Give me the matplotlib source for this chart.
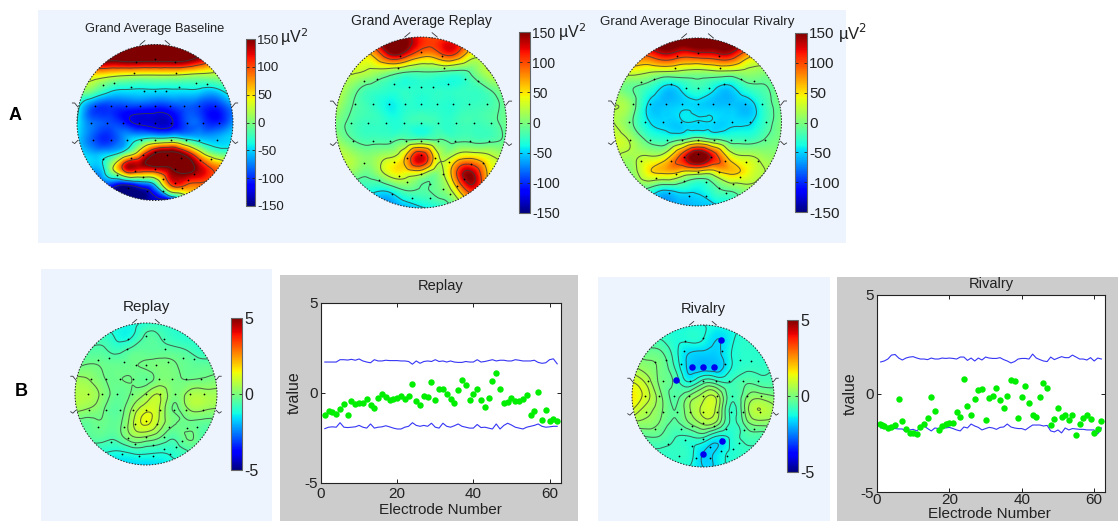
import numpy as np
import matplotlib
matplotlib.use("Agg")
import matplotlib.pyplot as plt
from matplotlib.patches import Rectangle, Circle
from matplotlib.tri import Triangulation, CubicTriInterpolator

plt.rcParams['font.family'] = ['Liberation Sans', 'DejaVu Sans']
plt.rcParams['axes.unicode_minus'] = False
W, H = 1118, 521

# Scalp maps: values read on a coarse 11x11 grid, top row = front of head
baseline = [
 [170,170,170,170,170,170,170,170,170,170,170],
 [160,160,160,165,165,165,165,160,130,90,70],
 [60,50,40,30,25,25,25,20,15,15,20],
 [0,-5,-35,-45,-45,-45,-45,-45,-50,-50,-15],
 [-30,-85,-95,-95,-95,-100,-95,-85,-95,-100,-70],
 [-40,-80,-90,-105,-125,-130,-125,-90,-90,-105,-70],
 [-45,-85,-100,-70,-50,-40,-35,-50,-60,-60,-50],
 [-40,-60,-55,-15,60,155,170,130,40,-10,-30],
 [-60,-60,-10,110,125,130,150,170,130,90,60],
 [-120,-110,-90,-120,-90,-40,100,100,90,70,60],
 [-150,-150,-150,-150,-150,-130,-120,0,50,60,60],
]
replay_avg = [
 [140,140,140,150,150,110,100,100,100,100,100],
 [60,60,60,125,125,80,90,100,40,40,40],
 [30,30,20,10,-5,-10,-10,-15,-5,25,25],
 [30,0,-20,-28,-30,-30,-30,-30,-25,-10,10],
 [20,-12,-25,-40,-32,-32,-30,-30,-25,-20,-5],
 [0,-18,-25,-30,-28,-25,-25,-25,-22,-18,-5],
 [10,-12,-20,-20,-12,-10,-12,-18,-18,-18,-5],
 [30,15,5,20,55,130,30,35,50,30,10],
 [5,5,-5,30,40,30,5,90,140,50,40],
 [-35,-35,-35,-40,-15,-15,-5,40,110,50,40],
 [-70,-70,-75,-70,-60,-45,-35,-10,20,20,20],
]
rivalry_avg = [
 [170,170,170,170,170,170,170,170,170,170,170],
 [100,100,100,125,110,115,120,120,70,60,60],
 [35,35,25,20,15,10,15,15,12,5,5],
 [10,-10,-25,-50,-42,-25,-42,-50,-25,-15,5],
 [20,5,-45,-55,-50,-50,-55,-55,-55,-25,-5],
 [20,-5,-42,-50,-48,-46,-48,-48,-48,-25,0],
 [30,15,-18,-30,-20,0,-15,-25,-25,-12,0],
 [20,15,20,30,100,165,110,35,20,10,5],
 [5,5,45,60,50,40,40,60,40,20,15],
 [-15,-15,-15,-40,-35,-40,-20,-5,10,10,10],
 [-60,-60,-60,-60,-60,-55,-50,-30,-10,0,0],
]
replay_t = [
 [-1,-1,-1.2,-1.2,-1.2,-1,-.9,-1,-1,-1,-1],
 [-.8,-.8,-.8,-1.2,-1.1,-.5,-.6,-.9,-1,-1,-1],
 [-.5,-.5,-.5,-.7,-.4,-.35,-.35,-.4,-.6,-.9,-.9],
 [-.3,-.1,-.2,-.25,-.2,-.1,0,-.1,-.3,-.35,-.4],
 [.5,.3,-.1,-.2,-.15,-.3,.05,-.05,-.15,-.1,0],
 [.6,.6,.1,-.3,-.1,.35,.7,0,.45,.55,.45],
 [.5,.3,-.1,-.4,.3,1.0,.7,-.2,.35,.45,.3],
 [-.3,-.3,-.2,-.3,.6,1.3,.6,-.1,-.2,-.3,-.3],
 [-.4,-.4,-.4,-.4,.25,.3,-.1,-.5,-.1,-.5,-.5],
 [-1,-1,-1,-1.1,-.9,-.9,-1,-.9,-.6,-.6,-.6],
 [-1.6,-1.6,-1.6,-1.6,-1.6,-1.6,-1.5,-1.3,-1,-1,-1],
]
rivalry_t = [
 [-1.2,-1.2,-1.2,-1.2,-1.2,-1.2,-1.2,-1.2,-1.2,-1.2,-1.2],
 [-.8,-.8,-.8,-1.1,-1.1,-1.2,-1.6,-1.3,-1,-1,-1],
 [-.2,-.2,-.3,-1,-1.6,-1.7,-1.7,-1.2,-1,-1,-1],
 [.5,.2,-.1,-.8,-1.7,-1.8,-1.8,-1.2,-.9,-.9,-.8],
 [1.2,.7,-.1,-.5,-1.2,-.6,-.7,-.8,-.5,-.6,-.6],
 [1.6,1.0,.1,-.5,0,.6,.6,-.7,-.1,.2,0],
 [1.2,.6,.1,-.4,.3,.9,.6,-.9,.1,.8,.5],
 [.2,.2,-.1,-.5,-.1,.4,.1,-.9,-.3,.1,.1],
 [-.5,-.5,-.5,-.8,-.9,-.9,-1.4,-1.1,-.7,-.7,-.7],
 [-.9,-.9,-.9,-.9,-1,-1.6,-1.5,-1.1,-.9,-.9,-.9],
 [-1,-1,-1,-1,-1.2,-1.6,-1.5,-1,-1,-1,-1],
]
grid_axis = [-1,-.8,-.6,-.4,-.2,0,.2,.4,.6,.8,1]

levels_baseline = [-120,-40,30,100,155]
levels_replay_avg = [-42,-12,25,62,100,135]
levels_rivalry_avg = [-45,-12,20,55,95,130]
levels_replay_t = [-1.1,-.6,-.15,.3,.75,1.2]
levels_rivalry_t = [-1.6,-1.2,-.8,-.4,0,.4,.8,1.2]

elec_x = [-.25,0,.25,-.27,.27,-.67,-.52,-.31,-.14,0,.14,.31,.52,.67,
          -.77,-.56,-.37,-.19,0,.19,.37,.56,.77,
          -.82,-.62,-.41,-.2,0,.2,.41,.62,.82,
          -.8,-.56,-.36,-.18,0,.2,.4,.57,.8,
          -.67,-.31,-.16,0,.16,.33,.58,.72,
          -.49,-.26,0,.26,.5,-.16,.1,.26,.42,-.34,-.1,.1,.34]
elec_y = [.78,.82,.78,.64,.64,.48,.51,.45,.41,.41,.41,.45,.51,.49,
          .215,.215,.215,.215,.215,.215,.215,.215,.215,
          0,0,0,0,0,0,0,0,0,
          -.22,-.22,-.22,-.22,-.22,-.22,-.22,-.22,-.22,
          -.47,-.46,-.42,-.38,-.42,-.46,-.48,-.47,
          -.67,-.62,-.6,-.6,-.66,-.7,-.72,-.78,-.74,-.84,-.88,-.88,-.84]

sig_x = [-.155,0,.155,-.385,.254,.272,0]
sig_y = [.413,.413,.413,.225,.784,-.634,-.817]

# t-values per electrode
electrodes = list(range(1, 63))
replay_vals = [-1.2,-1.0,-1.07,-1.15,-.87,-.63,-1.22,-.46,-.63,-.56,-.56,-.31,-.65,-.85,-.28,-.06,
 -.22,-.39,-.35,-.26,-.15,-.33,-.19,.48,-.43,-.67,-.15,-.22,.61,-.37,.2,.24,-.06,-.31,-.54,.15,.74,
 .43,-.37,-.06,.2,-.41,-.78,-.3,.65,1.13,.2,-.57,-.52,-.26,-.44,-.46,-.35,-.13,-1.22,-1.02,.07,-1.5,
 -.94,-1.57,-1.46,-1.54]
replay_upper = [1.72,1.72,1.72,1.72,1.85,1.85,1.83,1.87,1.82,1.89,1.78,1.72,1.68,1.85,1.78,1.78,1.82,
 1.8,1.8,1.8,1.78,1.78,1.75,1.6,1.78,1.65,1.75,1.78,1.75,1.85,1.75,1.78,1.72,1.78,1.72,1.7,1.7,1.75,
 1.72,1.72,1.85,1.72,1.75,1.8,1.85,1.78,1.82,1.82,1.78,1.78,1.85,1.82,1.78,1.78,1.78,1.82,1.7,1.65,
 1.68,1.85,1.9,1.62]
replay_lower = [-1.98,-1.9,-1.88,-1.9,-1.65,-1.9,-1.92,-1.9,-1.88,-1.8,-1.9,-1.95,-1.72,-1.95,-1.9,
 -1.88,-1.82,-1.88,-1.95,-2,-2,-1.9,-1.85,-1.65,-1.8,-1.85,-1.8,-1.85,-1.68,-1.9,-1.95,-1.68,-1.85,
 -1.9,-1.82,-1.72,-1.85,-1.9,-1.95,-1.95,-1.75,-1.92,-1.9,-1.95,-2.0,-1.72,-2.0,-1.8,-1.68,-1.78,
 -1.9,-1.95,-2.0,-1.9,-1.85,-1.8,-1.72,-1.85,-1.9,-1.88,-1.85,-1.85]
rivalry_x = [.7,1.4,2,3,4,5,6,7,8,9,10,11,12,13,14,15,16,17,18,19,20,21,22,23,24,25,26,27,28,29,30,31,
 32,33,34,35,36,37,38,39,40,41,42,43,44,45,46,47,48,49,50,51,52,53,54,55,56,57,58,59,60,61,62]
rivalry_vals = [-1.54,-1.6,-1.65,-1.75,-1.7,-1.59,-.27,-1.39,-1.79,-2.0,-2.0,-2.08,-1.7,-1.55,-1.23,
 -.17,-.91,-1.87,-1.65,-1.55,-1.49,-1.49,-.95,-1.2,.76,-.64,-1.08,-.29,.19,.25,-1.37,-.24,-.15,.27,
 -.34,-.76,-.12,.71,.64,-1.23,-.2,.39,-.46,-1.08,-1.17,-.19,.52,.29,-1.59,-1.28,-.73,-1.2,-1.08,-1.35,
 -1.11,-2.11,-1.55,-1.25,-1.08,-1.28,-1.98,-1.79,-1.39]
rivalry_upper = [1.6,1.65,1.75,1.95,1.98,1.8,1.7,1.8,1.85,1.87,1.8,1.75,1.75,1.72,1.8,1.75,1.75,1.8,
 1.78,1.8,1.78,1.75,1.85,1.85,1.68,1.8,1.65,1.8,1.7,1.85,1.8,1.78,1.78,1.82,1.72,1.65,1.55,1.62,1.75,
 1.78,1.78,1.75,2.0,1.8,1.72,1.65,1.62,1.85,1.72,1.8,1.87,1.82,1.82,1.95,1.85,1.75,1.75,1.7,1.82,1.65,
 1.8,1.75]
rivalry_lower = [-1.75,-1.72,-1.78,-1.78,-1.78,-1.8,-1.8,-1.95,-1.85,-1.82,-1.9,-1.72,-1.65,-1.78,-1.9,
 -1.75,-1.78,-1.7,-1.75,-1.72,-1.78,-1.85,-1.9,-1.7,-1.75,-1.55,-1.65,-1.72,-1.85,-1.78,-1.72,-1.75,
 -1.82,-1.72,-1.7,-1.55,-1.7,-1.75,-1.78,-1.78,-1.85,-1.72,-1.6,-1.6,-1.6,-1.65,-1.62,-1.9,-1.95,-1.85,
 -2.0,-1.75,-1.85,-1.78,-1.8,-1.82,-1.82,-1.85,-1.85,-1.85,-2.05,-1.75]

LIGHT = '#EDF4FE'
GRAY = '#CCCCCC'
fig = plt.figure(figsize=(W/100, H/100), dpi=100, facecolor='white')


def box(x0, y0, x1, y1):
    return [x0/W, 1-y1/H, (x1-x0)/W, (y1-y0)/H]


def panel(x0, y0, x1, y1, color):
    fig.add_artist(Rectangle((x0/W, 1-y1/H), (x1-x0)/W, (y1-y0)/H, transform=fig.transFigure,
                             facecolor=color, edgecolor='none', zorder=-5))


def ftext(x, y, s, **kw):
    kw.setdefault('ha', 'center')
    kw.setdefault('va', 'center')
    kw.setdefault('color', '#222222')
    fig.text(x/W, 1-y/H, s, **kw)


def topo(cx, cy, r, field, levels, vmax, bar, ticks, tick_fs):
    m = 1.14
    ax = fig.add_axes(box(cx-m*r, cy-m*r, cx+m*r, cy+m*r))
    ax.set_xlim(-m, m); ax.set_ylim(-m, m); ax.axis('off'); ax.patch.set_alpha(0)
    gx, gy = np.meshgrid(grid_axis, grid_axis[::-1])
    tri = Triangulation(gx.ravel(), gy.ravel())
    itp = CubicTriInterpolator(tri, np.array(field, float).ravel(), kind='min_E')
    fx = np.linspace(-1, 1, 320)
    FX, FY = np.meshgrid(fx, fx)
    Z = itp(FX, FY)
    im = ax.imshow(Z, extent=(-1, 1, -1, 1), origin='lower', cmap='jet', vmin=-vmax, vmax=vmax,
                   interpolation='bilinear')
    ax.set_xlim(-m, m); ax.set_ylim(-m, m)
    clip = Circle((0, 0), 1, transform=ax.transData)
    im.set_clip_path(clip)
    cs = ax.contour(FX, FY, Z, levels=levels, colors='#3a3a3a', linewidths=0.75, alpha=0.75,
                    linestyles='solid')
    cs.set_clip_path(clip)
    ax.add_patch(Circle((0, 0), 1, fill=False, ec='#222222', lw=0.7, ls=(0, (1.5, 1.5))))
    ax.scatter(elec_x, elec_y, s=1.6, c='black', lw=0, zorder=5)
    for s in (-1, 1):
        ax.plot([s*.19, s*.13], [1.0, 1.05], color='#333333', lw=0.6)
        ax.plot([s*.99, s*1.03, s*1.06], [.2, .25, .25], color='#333333', lw=0.6)
        ax.plot([s*.99, s*1.03, s*1.06], [-.23, -.27, -.25], color='#333333', lw=0.6)
    cax = fig.add_axes(box(*bar))
    cb = fig.colorbar(im, cax=cax, ticks=ticks)
    cb.ax.tick_params(direction='in', length=2, width=0.6, pad=1.5, labelsize=tick_fs,
                      colors='#222222', left=True, right=True)
    cb.outline.set_edgecolor('#666666')
    cb.outline.set_linewidth(0.8)
    return ax


def tplot(x0, y0, x1, y1, xs, vals, up, lo, title, title_y, xl_y, yl_x, xl_x, xpad):
    ax = fig.add_axes(box(x0, y0, x1, y1), facecolor='white')
    ax.plot(electrodes, up, color='#3535F5', lw=0.8)
    ax.plot(electrodes, lo, color='#3535F5', lw=0.8)
    ax.plot(xs, vals, ls='none', marker='o', ms=4.6, color='#00EE00', mec='none')
    ax.set_xlim(0, 63); ax.set_ylim(-5, 5)
    ax.set_xticks([0, 20, 40, 60]); ax.set_yticks([-5, 0, 5])
    ax.tick_params(direction='in', length=3, width=0.7, labelsize=11, pad=2, top=True, right=True,
                   colors='#222222')
    ax.tick_params(axis='x', pad=xpad)
    for s in ax.spines.values():
        s.set_linewidth(0.8); s.set_color('#222222')
    ftext((x0+x1)/2, title_y, title, fontsize=10.5)
    ftext(xl_x, xl_y, 'Electrode Number', fontsize=11, va='baseline')
    ftext(yl_x, (y0+y1)/2, 'tvalue', fontsize=11.5, rotation=90)
    return ax


# backgrounds
panel(38, 10, 846, 243, LIGHT)
panel(41, 269, 272, 521, LIGHT)
panel(280, 275, 578, 521, GRAY)
panel(598, 277, 830, 521, LIGHT)
panel(837, 277, 1118, 521, GRAY)

t150 = [-150, -100, -50, 0, 50, 100, 150]
t5 = [-5, 0, 5]
topo(155, 122.5, 78, baseline, levels_baseline, 150, (246, 39, 255, 206), t150, 9.5)
topo(421, 122.5, 85.5, replay_avg, levels_replay_avg, 150, (519, 32, 530, 213), t150, 10)
topo(697.5, 122, 84, rivalry_avg, levels_rivalry_avg, 150, (795, 33, 807, 212), t150, 11)
topo(146, 394, 71, replay_t, levels_replay_t, 5, (231, 318, 242, 470), t5, 11.5)
ax = topo(703, 396, 71, rivalry_t, levels_rivalry_t, 5, (787, 320, 798, 472), t5, 11.5)
ax.scatter(sig_x, sig_y, s=22, c='#0000EE', lw=0, zorder=6)

ftext(155, 29, 'Grand Average Baseline', fontsize=9.3)
ftext(421, 21, 'Grand Average Replay', fontsize=10)
ftext(697, 22, 'Grand Average Binocular Rivalry', fontsize=9.6)
ftext(146, 307, 'Replay', fontsize=11)
ftext(703, 309, 'Rivalry', fontsize=10.5)
ftext(294, 37, '\u00b5V$^2$', fontsize=11.5)
ftext(572, 32, '\u00b5V$^2$', fontsize=11.5)
ftext(853, 33, '\u00b5V$^2$', fontsize=12)
ftext(15, 116, 'A', fontsize=13, fontweight='bold', color='black')
ftext(21, 392, 'B', fontsize=13, fontweight='bold', color='black')

tplot(321, 303, 561, 483, electrodes, replay_vals, replay_upper, replay_lower, 'Replay', 286, 514, 294, 440, 3)
tplot(877, 295, 1105, 492, rivalry_x, rivalry_vals, rivalry_upper, rivalry_lower,
      'Rivalry', 284, 518, 850, 989, 0.5)

fig.savefig('out.png', dpi=100)
